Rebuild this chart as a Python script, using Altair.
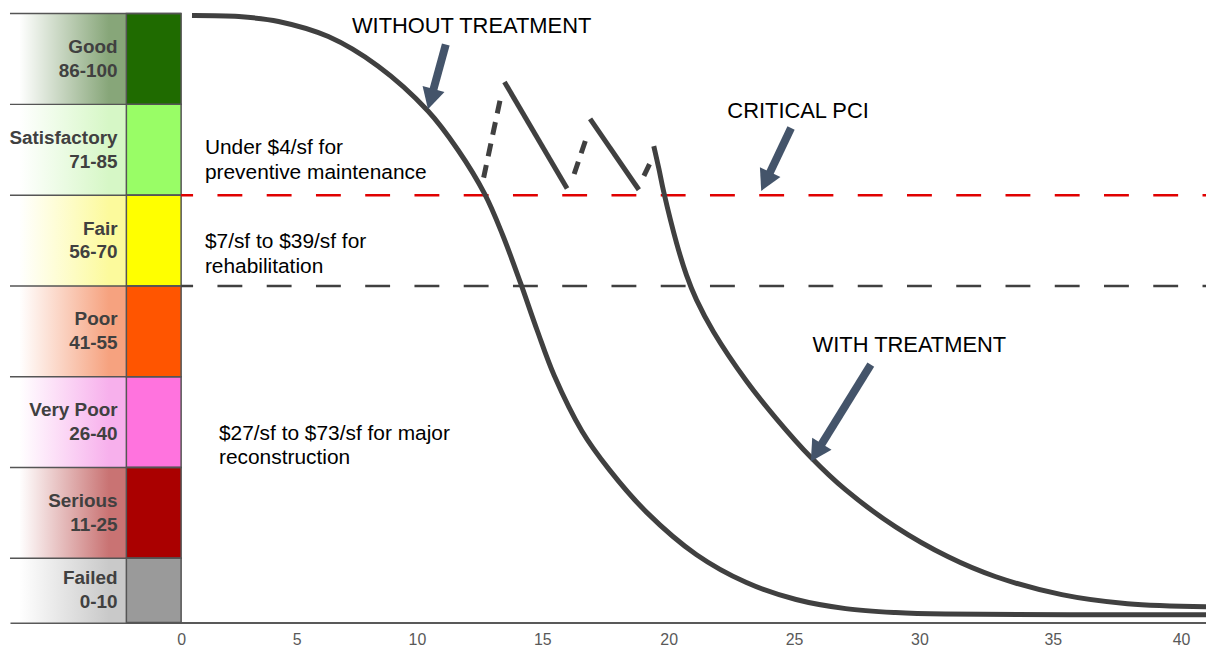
import math
import numpy as np
import altair as alt
import pandas as pd

# ---------------- data ----------------
CATEGORIES = ["Good", "Satisfactory", "Fair", "Poor", "Very Poor", "Serious", "Failed"]
RANGES = ["86-100", "71-85", "56-70", "41-55", "26-40", "11-25", "0-10"]
BAND_TOP = [100, 85, 70, 55, 40, 25, 10]
BAND_BOTTOM = [85, 70, 55, 40, 25, 10, 0]
SWATCH_COLORS = ["#1f6b00", "#99fd66", "#ffff00", "#ff5500", "#ff73de", "#aa0000", "#9a9a9a"]
FADE_COLORS = ["#87a679", "#d6f7c6", "#fcfa9c", "#f6a27f", "#f7b0ec", "#c97373", "#c9c9c9"]

CRITICAL_PCI = 70
REHAB_PCI = 55

# age (years) vs PCI
WITHOUT_X = [0.47, 2.5, 4.22, 6.32, 8.39, 10.44, 11.63, 12.70, 13.41, 14.13, 14.80, 15.47,
             16.57, 17.64, 19.13, 21.11, 23.10, 25.08, 27.06, 29.05, 30.97, 41.0]
WITHOUT_Y = [99.67, 99.5, 98.7, 96.2, 91.3, 83.9, 77.5, 70.2, 63.5, 55.5, 47.6, 40.2,
             31.0, 24.7, 17.6, 10.6, 6.0, 3.2, 1.7, 1.05, 0.8, 0.7]

WITH_X = [19.41, 19.61, 19.80, 20.32, 20.71, 21.11, 21.79, 23.10, 24.29, 25.67,
          27.06, 29.05, 31.08, 32.84, 35.35, 37.91, 41.0]
WITH_Y = [78.1, 74.4, 70.6, 62.0, 56.8, 52.7, 47.4, 39.3, 33.1, 26.7,
          21.3, 15.2, 10.25, 7.0, 4.0, 2.5, 2.0]

# deterioration after each treatment (solid)
SOLID_SEG = [1, 1, 2, 2]
SOLID_X = [13.49, 15.98, 16.89, 18.82]
SOLID_Y = [88.7, 71.1, 82.6, 70.9]

# treatment jumps (dashed)
JUMP_SEG = [1, 1, 2, 2, 3, 3]
JUMP_X = [12.66, 13.33, 16.26, 16.77, 19.02, 19.25]
JUMP_Y = [72.9, 86.0, 73.5, 79.8, 73.2, 75.2]

ANNOT_TEXT = ["WITHOUT TREATMENT", "CRITICAL PCI", "WITH TREATMENT"]
ANNOT_X = [12.18, 25.16, 29.6]
ANNOT_Y = [97.9, 83.9, 45.3]

ARROW_START_X = [11.15, 24.88, 28.06]
ARROW_START_Y = [94.9, 81.1, 42.0]
ARROW_TIP_X = [10.44, 23.69, 25.67]
ARROW_TIP_Y = [84.2, 70.7, 26.0]

COST_TEXT = ["Under $4/sf for", "preventive maintenance", "$7/sf to $39/sf for",
             "rehabilitation", "$27/sf to $73/sf for major", "reconstruction"]
COST_X = [1.03, 1.03, 1.03, 1.03, 1.64, 1.64]
COST_Y = [77.8, 73.7, 62.2, 58.2, 30.5, 26.5]

X_TICKS = [0, 5, 10, 15, 20, 25, 30, 35, 40]

# ---------------- layout ----------------
XMIN, XMAX = -7.0, 41.0
YMIN, YMAX = -0.6, 100.0
X_STOPS = [XMIN] + X_TICKS + [XMAX]
PX_STOPS = [0, 172, 288, 409, 535, 662, 788, 914, 1048, 1177, 1202]
SPLIT = -2.24
LABEL_X = -2.60
W = PX_STOPS[-1]
H = 612
PX_Y = H / (YMAX - YMIN)
FONT = "Liberation Sans"
DARK = "#404040"
ARROW_COLOR = "#44546A"

xs = alt.Scale(domain=X_STOPS, range=PX_STOPS, nice=False, zero=False)
ys = alt.Scale(domain=[YMIN, YMAX], nice=False, zero=False)
xaxis = alt.Axis(values=X_TICKS, ticks=False, grid=False,
                 domainColor="#595959", domainWidth=2, labelColor="#595959",
                 labelFont=FONT, labelFontSize=16, labelPadding=9)


def X(f):
    return alt.X(f, type="quantitative", scale=xs, axis=xaxis, title=None)


def Y(f):
    return alt.Y(f, type="quantitative", scale=ys, axis=None)


def xpx(v):
    return float(np.interp(v, X_STOPS, PX_STOPS))


def pxx(p):
    return float(np.interp(p, PX_STOPS, X_STOPS))


bands = pd.DataFrame({
    "cat": CATEGORIES,
    "range": RANGES,
    "top": BAND_TOP,
    "bottom": [b if b > 0 else YMIN for b in BAND_BOTTOM],
    "swatch": SWATCH_COLORS,
})
bands["mid"] = (bands["top"] + bands["bottom"]) / 2
bands["xl"] = XMIN
bands["xs"] = SPLIT
bands["xr"] = 0.0
bands["xlab"] = LABEL_X

layers = []
for c, col in zip(CATEGORIES, FADE_COLORS):
    grad = alt.LinearGradient(
        gradient="linear", x1=0, x2=1, y1=0, y2=0,
        stops=[alt.GradientStop(color="#ffffff", offset=0),
               alt.GradientStop(color="#ffffff", offset=0.08),
               alt.GradientStop(color=col, offset=0.85),
               alt.GradientStop(color=col, offset=1)])
    layers.append(
        alt.Chart(bands).transform_filter(alt.datum.cat == c)
        .mark_rect(fill=grad)
        .encode(x=X("xl"), x2="xs", y=Y("top"), y2="bottom")
    )

swatch = alt.Chart(bands).mark_rect(stroke="#555555", strokeWidth=1.5).encode(
    x=X("xs"), x2="xr", y=Y("top"), y2="bottom",
    fill=alt.Fill("swatch:N", scale=None))

rows = alt.Chart(bands).mark_rule(color="#555555", strokeWidth=1.5).encode(
    x=X("xl"), x2="xr", y=Y("top"))

cat_text = alt.Chart(bands).mark_text(
    align="right", baseline="middle", font=FONT, fontSize=19, fontWeight="bold",
    color=DARK, dy=-12).encode(x=X("xlab"), y=Y("mid"), text="cat:N")
rng_text = alt.Chart(bands).mark_text(
    align="right", baseline="middle", font=FONT, fontSize=19, fontWeight="bold",
    color=DARK, dy=12).encode(x=X("xlab"), y=Y("mid"), text="range:N")

thr = pd.DataFrame({"pci": [CRITICAL_PCI, REHAB_PCI], "kind": ["critical", "rehab"]})
thr["x0"] = 0.0
thr["x1"] = XMAX
crit = alt.Chart(thr).transform_filter(alt.datum.kind == "critical").mark_rule(
    color="#e00000", strokeWidth=2.5, strokeDash=[25, 24.5], strokeDashOffset=13
).encode(x=X("x0"), x2="x1", y=Y("pci"))
rehab = alt.Chart(thr).transform_filter(alt.datum.kind == "rehab").mark_rule(
    color=DARK, strokeWidth=2.5, strokeDash=[25, 24.5], strokeDashOffset=13
).encode(x=X("x0"), x2="x1", y=Y("pci"))

without = alt.Chart(pd.DataFrame({"x": WITHOUT_X, "y": WITHOUT_Y})).mark_line(
    color=DARK, strokeWidth=5, interpolate="catmull-rom").encode(x=X("x"), y=Y("y"))
withc = alt.Chart(pd.DataFrame({"x": WITH_X, "y": WITH_Y})).mark_line(
    color=DARK, strokeWidth=5, interpolate="catmull-rom").encode(x=X("x"), y=Y("y"))

solid = alt.Chart(pd.DataFrame({"seg": SOLID_SEG, "x": SOLID_X, "y": SOLID_Y})).mark_line(
    color=DARK, strokeWidth=5).encode(x=X("x"), y=Y("y"), detail="seg:N")
jumps = alt.Chart(pd.DataFrame({"seg": JUMP_SEG, "x": JUMP_X, "y": JUMP_Y})).mark_line(
    color=DARK, strokeWidth=5, strokeDash=[13, 9]).encode(x=X("x"), y=Y("y"), detail="seg:N")

# arrows: shaft + rotated head
angs, exs, eys = [], [], []
for sx, sy, tx, ty in zip(ARROW_START_X, ARROW_START_Y, ARROW_TIP_X, ARROW_TIP_Y):
    sxp, txp = xpx(sx), xpx(tx)
    syp, typ = (YMAX - sy) * PX_Y, (YMAX - ty) * PX_Y
    dxp, dyp = txp - sxp, typ - syp
    L = math.hypot(dxp, dyp)
    ux, uy = dxp / L, dyp / L
    angs.append(math.degrees(math.atan2(ux, -uy)) % 360)
    exs.append(pxx(txp - 12 * ux))
    eys.append(YMAX - (typ - 12 * uy) / PX_Y)
ar = pd.DataFrame({"sx": ARROW_START_X, "sy": ARROW_START_Y,
                   "tx": ARROW_TIP_X, "ty": ARROW_TIP_Y,
                   "ang": angs, "ex": exs, "ey": eys})

shafts = alt.Chart(ar).mark_rule(color=ARROW_COLOR, strokeWidth=8).encode(
    x=X("sx"), y=Y("sy"), x2="ex", y2="ey")
heads = alt.Chart(ar).mark_point(
    shape="M0,0L0.95,1.75L-0.95,1.75Z", size=576, filled=True,
    color=ARROW_COLOR, opacity=1, strokeWidth=0).encode(
    x=X("tx"), y=Y("ty"), angle=alt.Angle("ang:Q", scale=None))

annot = alt.Chart(pd.DataFrame({"t": ANNOT_TEXT, "x": ANNOT_X, "y": ANNOT_Y})).mark_text(
    font=FONT, fontSize=22, color="#000000", align="center", baseline="middle"
).encode(x=X("x"), y=Y("y"), text="t:N")

cost = alt.Chart(pd.DataFrame({"t": COST_TEXT, "x": COST_X, "y": COST_Y})).mark_text(
    font=FONT, fontSize=21, color="#000000", align="left", baseline="middle"
).encode(x=X("x"), y=Y("y"), text="t:N")

chart = alt.layer(
    *layers, swatch, rows, cat_text, rng_text, crit, rehab,
    without, withc, solid, jumps, shafts, heads, annot, cost
).properties(
    width=W, height=H,
    padding={"left": 2, "top": 4, "right": 0, "bottom": 24},
    autosize="none", background="white"
).configure_view(strokeWidth=0)

chart.save("out.html", embed_options={"renderer": "svg", "actions": False})
